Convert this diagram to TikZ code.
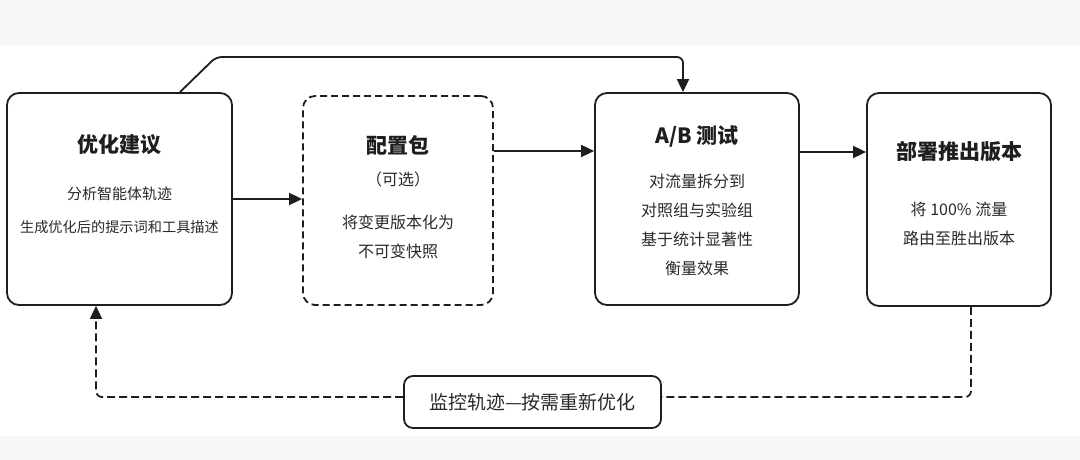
\documentclass[tikz,border=0pt]{standalone}
\usepackage{fontspec}
\setmainfont{Noto Sans CJK SC}
\usetikzlibrary{arrows.meta,calc}
\definecolor{ink}{HTML}{1E1E1E}
\definecolor{txt}{HTML}{2A2A2A}
\definecolor{band}{HTML}{F7F7F7}
\begin{document}
\begin{tikzpicture}[x=1pt,y=-1pt,
  box/.style={draw=ink, line width=1.8pt, rounded corners=12pt, inner sep=0pt, fill=white},
  dbox/.style={box, dash pattern=on 7pt off 4pt},
  ttl/.style={text=ink, font=\fontsize{21}{25}\selectfont\bfseries, inner sep=0pt},
  bodytxt/.style={text=txt, font=\fontsize{16}{29}\selectfont, align=center, inner sep=0pt},
  arr/.style={draw=ink, line width=1.8pt, -{Triangle[length=13pt,width=12pt]}},
  darr/.style={arr, dash pattern=on 8pt off 4pt},
  dline/.style={draw=ink, line width=1.8pt, dash pattern=on 8pt off 4pt}]
\fill[white] (0,0) rectangle (1080,460);
\fill[band] (0,0) rectangle (1080,45);
\fill[band] (0,436) rectangle (1080,460);
\useasboundingbox (0,0) rectangle (1080,460);

% boxes
\node[box, minimum width=225pt, minimum height=212pt] (b1) at (119.5,199) {};
\node[dbox, minimum width=190pt, minimum height=209pt] (b2) at (398,200.5) {};
\node[box, minimum width=204pt, minimum height=212pt] (b3) at (697,199) {};
\node[box, minimum width=184pt, minimum height=213pt] (b4) at (959,199.5) {};

% box 1 texts
\node[ttl] (t1) at (119.5,145) {优化建议};
\node[text=txt, font=\fontsize{15}{33}\selectfont, inner sep=0pt] (s1a) at (119.5,194) {分析智能体轨迹};
\node[text=txt, font=\fontsize{14.2}{33}\selectfont, inner sep=0pt] (s1b) at (119.5,227) {生成优化后的提示词和工具描述};

% box 2 texts
\node[ttl] (t2) at (398,145) {配置包};
\node[bodytxt] (s2a) at (398,179) {（可选）};
\node[bodytxt] (s2b) at (398,237) {将变更版本化为\\不可变快照};

% box 3 texts
\node[ttl] (t3) at (697,137) {A/B 测试};
\node[bodytxt] (s3) at (697,225) {对流量拆分到\\对照组与实验组\\基于统计显著性\\衡量效果};

% box 4 texts
\node[ttl] (t4) at (959,152) {部署推出版本};
\node[bodytxt] (s4) at (959,224) {将 100\% 流量\\路由至胜出版本};

% feedback label
\node[box, rounded corners=9pt, minimum width=257pt, minimum height=52pt,
      text=txt, font=\fontsize{19}{22}\selectfont] (lb) at (532.5,402) {监控轨迹—按需重新优化};

% connectors
\draw[arr] (b1.east |- 0,199) -- (b2.west |- 0,199);
\draw[arr] (b2.east |- 0,151) -- (b3.west |- 0,151);
\draw[arr] (b3.east |- 0,152) -- (b4.west |- 0,152);

\coordinate (k1) at (216,57);
\draw[arr, rounded corners=6pt] (b1.north -| 180,0) -- (k1) -- (683,57) -- (b3.north -| 683,0);

\draw[dline, rounded corners=6pt] (b4.south -| 971,0) -- (971,397) -- (lb.east |- 0,397);
\draw[darr, rounded corners=6pt] (lb.west |- 0,397) -- (96,397) -- (b1.south -| 96,0);
\end{tikzpicture}
\end{document}
